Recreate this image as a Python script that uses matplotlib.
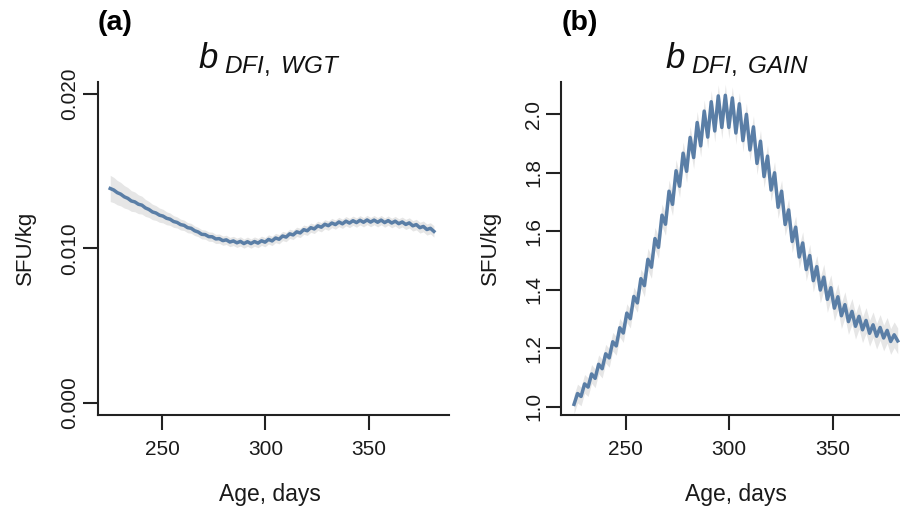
import numpy as np
import matplotlib.pyplot as plt

plt.rcParams['font.family'] = ['Liberation Sans', 'DejaVu Sans']
plt.rcParams['mathtext.fontset'] = 'custom'
plt.rcParams['mathtext.it'] = 'Liberation Sans:italic'
plt.rcParams['mathtext.rm'] = 'Liberation Sans'

# age grid (days) shared by both panels
age = 225 + 1.7 * np.arange(93)

# (a) b_DFI,WGT  (values in 1e-3 SFU/kg)
wgt = [13.88, 13.78, 13.61, 13.51, 13.34, 13.24, 13.07, 13.01, 12.86, 12.80,
       12.62, 12.52, 12.36, 12.29, 12.15, 12.09, 11.95, 11.89, 11.74, 11.68,
       11.54, 11.49, 11.34, 11.30, 11.14, 11.06, 10.91, 10.89, 10.76, 10.75,
       10.61, 10.63, 10.50, 10.55, 10.41, 10.48, 10.36, 10.45, 10.31, 10.43,
       10.31, 10.44, 10.34, 10.49, 10.40, 10.58, 10.48, 10.67, 10.59, 10.80,
       10.73, 10.94, 10.87, 11.07, 11.00, 11.21, 11.14, 11.34, 11.26, 11.46,
       11.37, 11.56, 11.47, 11.64, 11.54, 11.71, 11.59, 11.76, 11.64, 11.79,
       11.67, 11.82, 11.69, 11.84, 11.70, 11.83, 11.69, 11.83, 11.67, 11.80,
       11.64, 11.76, 11.60, 11.71, 11.55, 11.65, 11.46, 11.54, 11.34, 11.42,
       11.22, 11.30, 11.10]
wgt_ci = ([0.85, 0.82, 0.79, 0.76, 0.73, 0.70, 0.67, 0.64, 0.61, 0.58,
           0.55, 0.52, 0.50, 0.48, 0.46, 0.44, 0.42, 0.40, 0.38, 0.36,
           0.35, 0.34, 0.33, 0.32, 0.31] + [0.30] * 55 +
          [0.31, 0.31, 0.32, 0.32, 0.33, 0.33, 0.34, 0.34, 0.35, 0.35,
           0.36, 0.36, 0.37])

# (b) b_DFI,GAIN
gain = [1.008, 1.045, 1.035, 1.078, 1.067, 1.112, 1.097, 1.145, 1.130, 1.181,
        1.167, 1.222, 1.208, 1.270, 1.252, 1.320, 1.301, 1.377, 1.355, 1.438,
        1.414, 1.504, 1.477, 1.575, 1.545, 1.655, 1.624, 1.737, 1.692, 1.807,
        1.754, 1.867, 1.805, 1.921, 1.852, 1.972, 1.892, 2.011, 1.922, 2.043,
        1.943, 2.063, 1.955, 2.065, 1.955, 2.056, 1.936, 2.036, 1.910, 2.000,
        1.878, 1.957, 1.832, 1.908, 1.787, 1.857, 1.741, 1.800, 1.682, 1.737,
        1.623, 1.673, 1.565, 1.614, 1.512, 1.560, 1.469, 1.517, 1.431, 1.479,
        1.399, 1.443, 1.367, 1.407, 1.337, 1.376, 1.311, 1.349, 1.291, 1.326,
        1.275, 1.309, 1.263, 1.295, 1.251, 1.280, 1.241, 1.271, 1.235, 1.261,
        1.223, 1.246, 1.225]
gain_ci = [0.032] * 20 + [0.038] * 50 + [0.044] * 23

line_col = '#5A7EA6'
band_col = '#E6E6E6'
ink = '#1a1a1a'

fig = plt.figure(figsize=(9, 5.09), dpi=100)
W, H = 900, 509


def make_ax(x0, x1, y_top, y_bot):
    return fig.add_axes([x0 / W, 1 - y_bot / H, (x1 - x0) / W, (y_bot - y_top) / H])


ax1 = make_ax(97.6, 448.6, 81.7, 415)
ax2 = make_ax(561.4, 912.4, 81.7, 415)

w1 = np.array(wgt) / 1000
c1 = np.array(wgt_ci) / 1000
ax1.fill_between(age, w1 - c1, w1 + c1, color=band_col, lw=0)
ax1.plot(age, w1, color=line_col, lw=2.5)

g = np.array(gain)
c2 = np.array(gain_ci)
ax2.fill_between(age, g - c2, g + c2, color=band_col, lw=0)
ax2.plot(age, g, color=line_col, lw=2.5)

ax1.set_ylim(-0.0008, 0.0208)
ax1.set_yticks([0, 0.01, 0.02])
ax1.set_yticklabels(['0.000', '0.010', '0.020'])
ax2.set_ylim(0.9716, 2.1115)
ax2.set_yticks([1.0, 1.2, 1.4, 1.6, 1.8, 2.0])
ax2.set_yticklabels(['1.0', '1.2', '1.4', '1.6', '1.8', '2.0'])

for ax in (ax1, ax2):
    ax.set_xlim(218.9, 388.5)
    ax.set_xticks([250, 300, 350])
    for s in ('top', 'right'):
        ax.spines[s].set_visible(False)
    for s in ('left', 'bottom'):
        ax.spines[s].set_linewidth(1.5)
        ax.spines[s].set_color('#222222')
    ax.tick_params(axis='both', length=11, width=1.5, color='#222222',
                   labelsize=15, labelcolor=ink)
    ax.tick_params(axis='x', pad=7)
    ax.tick_params(axis='y', pad=2)
    for lab in ax.get_yticklabels():
        lab.set_rotation(90)
        lab.set_va('center')

# axis labels
for xc in (270, 736):
    fig.text(xc / W, 1 - 494 / H, 'Age, days', fontsize=16.5, color=ink,
             ha='center', va='center')
for xc in (25, 490):
    fig.text(xc / W, 1 - 248 / H, 'SFU/kg', fontsize=16, color=ink,
             ha='center', va='center', rotation=90)

ax1.text(0.49, 1.065, r'$b_{\ DFI,\ WGT}$', transform=ax1.transAxes,
         ha='center', va='center', fontsize=25, color='#111111')
ax2.text(0.5, 1.065, r'$b_{\ DFI,\ GAIN}$', transform=ax2.transAxes,
         ha='center', va='center', fontsize=25, color='#111111')

fig.text(115 / W, 1 - 23 / H, '(a)', fontsize=20.5, fontweight='bold',
         ha='center', va='center')
fig.text(580 / W, 1 - 23 / H, '(b)', fontsize=20.5, fontweight='bold',
         ha='center', va='center')

fig.savefig('out.png', dpi=100)
